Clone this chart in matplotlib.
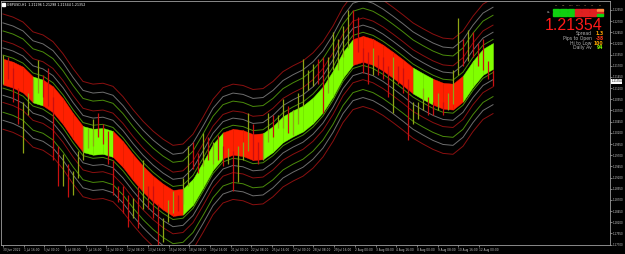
import numpy as np
import matplotlib
matplotlib.use("Agg")
import matplotlib.pyplot as plt
from matplotlib.patches import Rectangle
import matplotlib.transforms as mtransforms

# band centre (every 2 bars) and its colour: 1 = green, 0 = red
mid = [1.2157, 1.2150, 1.2139, 1.2117, 1.2110, 1.2095, 1.2068, 1.2035, 1.2006, 1.2000,
       1.2002, 1.1995, 1.1972, 1.1943, 1.1917, 1.1895, 1.1877, 1.1863, 1.1866, 1.1888,
       1.1926, 1.1966, 1.1992, 1.2000, 1.1997, 1.1988, 1.1990, 1.2006, 1.2028, 1.2041,
       1.2052, 1.2070, 1.2095, 1.2130, 1.2172, 1.2201, 1.2208, 1.2201, 1.2188, 1.2172,
       1.2155, 1.2137, 1.2124, 1.2112, 1.2103, 1.2101, 1.2119, 1.2152, 1.2179, 1.2192]
mid_up = [0, 0, 0, 1, 0, 0, 0, 0, 1, 1,
          1, 0, 0, 0, 0, 0, 0, 0, 1, 1,
          1, 1, 0, 0, 0, 0, 1, 1, 1, 1,
          1, 1, 1, 1, 1, 0, 0, 0, 0, 0,
          0, 1, 1, 0, 0, 0, 1, 1, 1, 1]

# candles (highs / lows), 1 = bullish
high = [1.2195, 1.2190, 1.2165, 1.2120, 1.2090, 1.2110, 1.2140, 1.2184, 1.2150, 1.2165,
        1.2100, 1.1990, 1.1973, 1.1950, 1.1935, 1.1980, 1.2035, 1.2030, 1.2050, 1.2065,
        1.2040, 1.2025, 1.1960, 1.1900, 1.1900, 1.1880, 1.1875, 1.1900, 1.1960, 1.1900,
        1.1900, 1.1860, 1.1830, 1.1870, 1.1890, 1.1880, 1.1920, 1.1990, 1.2000, 1.1975,
        1.2020, 1.2010, 1.2000, 1.2015, 1.1990, 1.1985, 1.1980, 1.1990, 1.2000, 1.2065,
        1.2040, 1.2000, 1.2020, 1.2065, 1.2060, 1.2060, 1.2095, 1.2080, 1.2070, 1.2110,
        1.2185, 1.2160, 1.2175, 1.2185, 1.2190, 1.2190, 1.2245, 1.2230, 1.2260, 1.2295,
        1.2295, 1.2280, 1.2210, 1.2200, 1.2210, 1.2195, 1.2190, 1.2170, 1.2190, 1.2170,
        1.2165, 1.2140, 1.2090, 1.2090, 1.2120, 1.2100, 1.2090, 1.2110, 1.2090, 1.2110,
        1.2160, 1.2277, 1.2230, 1.2250, 1.2245, 1.2220, 1.2230, 1.2180, 1.2160]
low = [1.2130, 1.2140, 1.2090, 1.2040, 1.1975, 1.2060, 1.2090, 1.2110, 1.2100, 1.2080,
       1.1960, 1.1900, 1.1900, 1.1876, 1.1880, 1.1919, 1.1960, 1.1985, 1.1990, 1.2010,
       1.1995, 1.1950, 1.1880, 1.1865, 1.1840, 1.1810, 1.1830, 1.1806, 1.1850, 1.1850,
       1.1830, 1.1760, 1.1775, 1.1820, 1.1840, 1.1845, 1.1860, 1.1900, 1.1940, 1.1930,
       1.1945, 1.1960, 1.1950, 1.1960, 1.1945, 1.1950, 1.1890, 1.1910, 1.1960, 1.1980,
       1.1960, 1.1950, 1.1960, 1.2000, 1.2010, 1.2030, 1.2030, 1.2020, 1.2015, 1.2040,
       1.2080, 1.2115, 1.2125, 1.2130, 1.2065, 1.2110, 1.2160, 1.2160, 1.2190, 1.2210,
       1.2230, 1.2200, 1.2155, 1.2130, 1.2150, 1.2150, 1.2140, 1.2100, 1.2065, 1.2130,
       1.2110, 1.2005, 1.2040, 1.2050, 1.2070, 1.2060, 1.2060, 1.2070, 1.2060, 1.2070,
       1.2085, 1.2150, 1.2170, 1.2180, 1.2190, 1.2170, 1.2160, 1.2140, 1.2125]
bull = [1, 0, 0, 0, 1, 1, 1, 1, 0, 0,
        0, 0, 1, 0, 1, 1, 1, 1, 1, 0,
        0, 0, 0, 0, 0, 0, 1, 0, 1, 0,
        0, 0, 1, 1, 1, 0, 1, 1, 0, 0,
        1, 0, 1, 0, 0, 1, 0, 1, 1, 1,
        0, 0, 1, 1, 0, 1, 1, 0, 1, 1,
        1, 1, 1, 0, 0, 1, 1, 1, 1, 1,
        0, 0, 0, 0, 1, 0, 0, 0, 1, 0,
        0, 0, 1, 1, 1, 0, 0, 1, 0, 1,
        1, 1, 0, 1, 0, 0, 0, 0, 0]

band_half = 0.0029
env_offsets = [0.0037, 0.0053, 0.0069, 0.0091, 0.0109, 0.0129]
env_colors = ['#4b8b0b', '#6e6e6e', '#8b1010', '#4b8b0b', '#6e6e6e', '#8b1010']

time_labels = ["30 Jun 2022", "1 Jul 16:00", "5 Jul 00:00", "6 Jul 08:00", "7 Jul 16:00",
               "11 Jul 00:00", "12 Jul 08:00", "13 Jul 16:00", "15 Jul 00:00", "18 Jul 08:00",
               "19 Jul 16:00", "21 Jul 00:00", "22 Jul 08:00", "25 Jul 16:00", "27 Jul 00:00",
               "28 Jul 08:00", "29 Jul 16:00", "2 Aug 00:00", "3 Aug 08:00", "4 Aug 16:00",
               "8 Aug 00:00", "9 Aug 08:00", "10 Aug 16:00", "12 Aug 00:00"]
price_ticks = [1.1770 + 0.0025 * k for k in range(22)]

last_price = 1.21354
info_names = ["Spread", "Pips to Open", "Hi to Low", "Daily Av"]
info_values = ["1.3", "-38", "100", "94"]
info_colors = ['#ffa500', '#ff3a1a', '#ffa500', '#7fff00']
tf_names = ["M1", "M5", "M15", "M30", "H1", "H4", "D1"]
tf_state = [['g', 'g', 'g'], ['g', 'g', 'g'], ['g', 'g', 'g'], ['r', 'r', 'r'],
            ['r', 'r', 'r'], ['r', 'r', 'r'], ['o', 'r', 'g']]

W, H = 625, 254
fig = plt.figure(figsize=(W / 100, H / 100), dpi=100, facecolor='black')
ax = fig.add_axes([1 / W, 9 / H, 609 / W, 244 / H], facecolor='black')

mid = np.array(mid)
xm = np.arange(len(mid)) * 2
xc = np.arange(len(high))

# envelope lines
for off, col in zip(env_offsets, env_colors):
    ax.plot(xm, mid + off, color=col, lw=0.7, zorder=2)
    ax.plot(xm, mid - off, color=col, lw=0.7, zorder=2)

# coloured band
for j in range(len(mid) - 1):
    c = '#80ff00' if mid_up[j] else '#ff2000'
    ax.fill_between(xm[j:j + 2], mid[j:j + 2] - band_half, mid[j:j + 2] + band_half,
                    color=c, lw=0.3, edgecolor=c, zorder=3)

# candles
for i in range(len(high)):
    c = '#8fa514' if bull[i] else '#c81010'
    ax.plot([xc[i], xc[i]], [low[i], high[i]], color=c, lw=0.9, zorder=4,
            solid_capstyle='butt')

ax.set_xlim(-0.4, 121.4)
ax.set_ylim(1.1769, 1.2315)

xt = np.arange(len(time_labels)) * 4.14
ax.set_xticks(xt)
ax.set_xticklabels(time_labels, fontsize=2.1, color='#c8c8c8')
for lb in ax.get_xticklabels():
    lb.set_ha('left')
ax.yaxis.tick_right()
ax.set_yticks(price_ticks)
ax.set_yticklabels(['%.5f' % p for p in price_ticks], fontsize=1.9, color='#c8c8c8')
ax.tick_params(axis='both', length=1.5, width=0.5, color='#b0b0b0', pad=0.4)
for s in ax.spines.values():
    s.set_color('#a0a0a0')
    s.set_linewidth(0.6)

# current price marker on the axis
tr = mtransforms.blended_transform_factory(ax.transAxes, ax.transData)
ax.text(1.002, last_price, '%.5f' % last_price, transform=tr, fontsize=1.9,
        color='black', va='center', ha='left',
        bbox=dict(fc='white', ec='none', pad=0.4), clip_on=False, zorder=10)

# title
fig.add_artist(Rectangle((2 / W, 1 - 5.5 / H), 2.5 / W, 2.5 / H, color='white',
                         transform=fig.transFigure))
fig.text(7 / W, 1 - 4.5 / H, "GBPUSD,H1  1.21296 1.21298 1.21344 1.21352",
         fontsize=2.3, color='white', va='center', ha='left')

# info panel
fig.text(603 / W, 1 - 25 / H, '%.5f' % last_price, fontsize=11.5, color='#ff1a1a',
         family='Liberation Sans', ha='right', va='center')
for k in range(len(info_names)):
    y = 1 - (33.5 + 4.8 * k) / H
    fig.text(592 / W, y, info_names[k], fontsize=3.3, color='#b0b0b0', ha='right', va='center')
    fig.text(603.5 / W, y, info_values[k], fontsize=3.3, color=info_colors[k],
             ha='right', va='center', weight='bold')

state_col = {'g': '#10d010', 'r': '#e02020', 'o': '#ff8c40'}
for c in range(len(tf_names)):
    x0 = 553 + c * 7.3
    fig.text((x0 + 3.2) / W, 1 - 6 / H, tf_names[c], fontsize=1.6, color='#c09060',
             ha='center', va='center')
    for r in range(3):
        fig.add_artist(Rectangle((x0 / W, 1 - (11 + 2.6 * r) / H), 6.4 / W, 1.8 / H,
                                 color=state_col[tf_state[c][r]], transform=fig.transFigure))
fig.text(548.5 / W, 1 - 12 / H, "TR\nND", fontsize=1.6, color='#d0d0d0',
         ha='center', va='center', linespacing=1.0)

fig.savefig('out.png', dpi=100, facecolor='black')
